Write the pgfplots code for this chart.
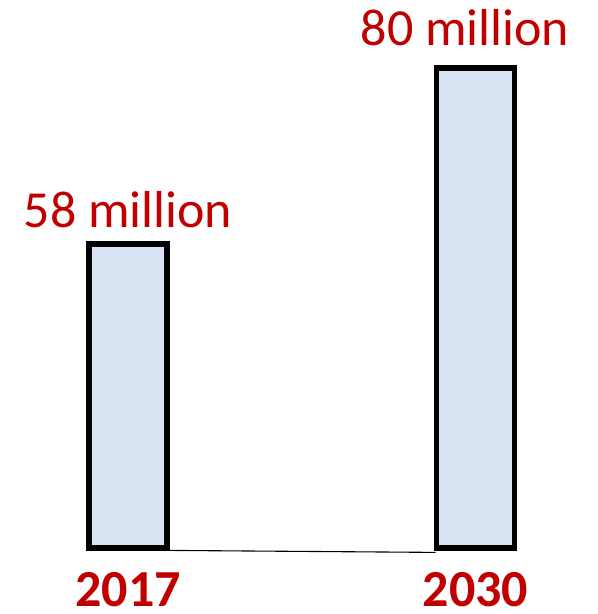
\documentclass[border=0pt]{standalone}
\usepackage{pgfplots}
\pgfplotsset{compat=1.18}
\usepackage{fontspec}
\setmainfont{Carlito}
\definecolor{valred}{HTML}{C00000}
\definecolor{barfill}{HTML}{DAE3F3}
\begin{document}
\begin{tikzpicture}
\begin{axis}[
  scale only axis,
  width=598bp, height=614bp,
  xmin=-0.3683, xmax=1.3525,
  ymin=11.75, ymax=88.5,
  hide axis,
  clip=false,
]
% fix the picture's extent to the axis box
\path[use as bounding box] (rel axis cs:0,0) rectangle (rel axis cs:1,1);
% baseline between bars
\addplot[draw=black, line width=1.1pt] coordinates {(0.115,19.7) (0.885,19.45)};
% 2017 bar: 58 million
\addplot[draw=black, line width=5.5bp, fill=barfill] coordinates {(-0.112,20) (-0.112,58) (0.112,58) (0.112,20)} -- cycle;
% 2030 bar: 80 million
\addplot[draw=black, line width=5.5bp, fill=barfill] coordinates {(0.888,20) (0.888,80) (1.112,80) (1.112,20)} -- cycle;
\node[anchor=base, inner sep=0pt, text=valred, font=\fontsize{52bp}{60bp}\selectfont] at (axis cs:0,60) {58 million};
\node[anchor=base, inner sep=0pt, text=valred, font=\fontsize{52bp}{60bp}\selectfont] at (axis cs:0.97,82.75) {80 million};
\node[anchor=base, inner sep=0pt, text=valred, font=\fontsize{52bp}{60bp}\selectfont\bfseries] at (axis cs:0,12.75) {2017};
\node[anchor=base, inner sep=0pt, text=valred, font=\fontsize{52bp}{60bp}\selectfont\bfseries] at (axis cs:1,12.75) {2030};
\end{axis}
\end{tikzpicture}
\end{document}
